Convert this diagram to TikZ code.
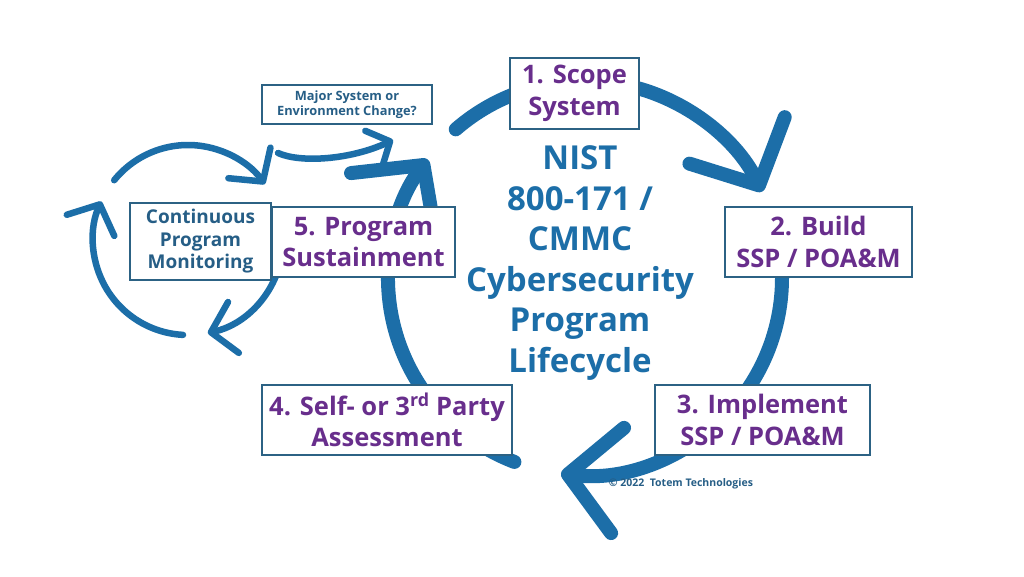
\documentclass[tikz,border=0pt]{standalone}
\usepackage{fontspec}
\setmainfont{Open Sans}
\usepackage{tikz}
\usetikzlibrary{arrows.meta, calc}
\definecolor{ringblue}{RGB}{28,110,168}
\definecolor{stagepurple}{RGB}{104,46,140}
\definecolor{edgeblue}{RGB}{44,98,132}
\definecolor{noteblue}{RGB}{38,94,134}

\begin{document}
\begin{tikzpicture}[x=1pt, y=-1pt,
    stagebox/.style={draw=edgeblue, line width=2pt, fill=white, align=center,
      text=stagepurple, inner sep=0pt, font=\fontsize{25.5}{31.5}\selectfont\bfseries},
    notebox/.style={stagebox, text=noteblue},
    bigring/.style={ringblue, line width=14pt, line cap=round},
    smallring/.style={ringblue, line width=6.5pt, line cap=round},
    bighead/.style={-{Straight Barb[length=50pt, width=106pt, round]}},
    smallhead/.style={-{Straight Barb[length=23pt, width=52pt, round]}}]
  \fill[white] (0,0) rectangle (1024,576);
  \useasboundingbox (0,0) rectangle (1024,576);
  \coordinate (ring) at (585,278);
  \coordinate (loop) at (188,240);
  \coordinate (chg) at (278,153);
  \coordinate (chgtip) at (393,140);

  \foreach \sa/\ea in {-131/-26, 35/97, 111/217}
    \draw[bigring, bighead] ($(ring)+(\sa:197)$) arc[start angle=\sa, end angle=\ea, radius=197];
  \draw[bigring] ($(ring)+(-10:197)$) arc[start angle=-10, end angle=35, radius=197];
  \foreach \sa/\ea in {-141/-36, 93/204, 15/78}
    \draw[smallring, smallhead] ($(loop)+(\sa:95)$) arc[start angle=\sa, end angle=\ea, radius=95];
  \draw[smallring, -{Straight Barb[length=18pt, width=40pt, round]}]
    (chg) .. controls (300,163) and (350,160) .. (chgtip);

  \node[font=\fontsize{33}{40.5}\selectfont\bfseries, text=ringblue, align=center] (title)
    at (580,263) {NIST\\800-171 /\\CMMC\\Cybersecurity\\Program\\Lifecycle};
  \node[stagebox, minimum width=129, minimum height=71] (scope) at (574.5,93.5) {1. Scope\\System};
  \node[stagebox, minimum width=187, minimum height=70] (build) at (818.5,242) {2. Build\\SSP / POA\&M};
  \node[stagebox, minimum width=215, minimum height=70] (impl) at (762.5,420) {3. Implement\\SSP / POA\&M};
  \node[stagebox, minimum width=250, minimum height=70] (assess) at (387,420) {4. Self- or 3\textsuperscript{rd} Party\\Assessment};
  \node[stagebox, minimum width=183, minimum height=70] (sustain) at (363.5,242) {5. Program\\Sustainment};
  \node[notebox, minimum width=141, minimum height=77, font=\fontsize{19}{22.5}\selectfont\bfseries]
    (monitor) at (200.5,241.5) {Continuous\\Program\\Monitoring};
  \node[notebox, line width=1.5pt, minimum width=170, minimum height=39, font=\fontsize{12.8}{15}\selectfont\bfseries]
    (change) at (347,104.5) {Major System or\\Environment Change?};
  \node[font=\fontsize{10.5}{12}\selectfont\bfseries, text=noteblue] (copy) at (681,484) {© 2022~~Totem Technologies};
\end{tikzpicture}
\end{document}
